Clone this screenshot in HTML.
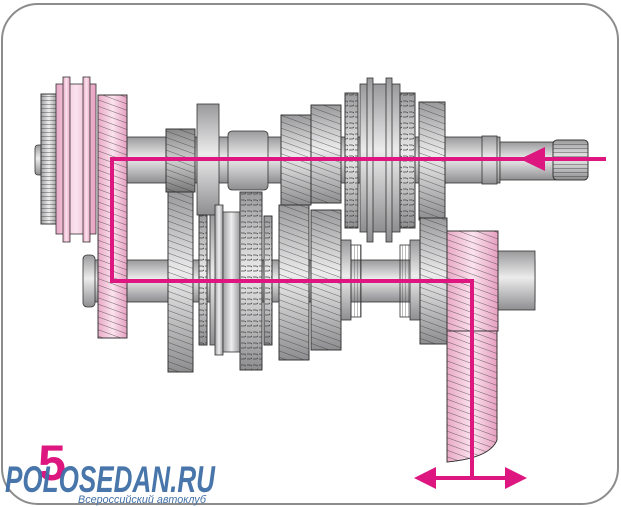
<!DOCTYPE html>
<html><head><meta charset="utf-8"><style>
html,body{margin:0;padding:0;background:#fff;width:621px;height:507px;overflow:hidden}
svg{display:block}
</style></head><body>
<svg width="621" height="507" viewBox="0 0 621 507" xmlns="http://www.w3.org/2000/svg">
<defs>
<linearGradient id="g" x1="0" y1="0" x2="0" y2="1">
<stop offset="0" stop-color="#9a9a9c"/><stop offset="0.45" stop-color="#ececed"/><stop offset="1" stop-color="#8e8e90"/></linearGradient>
<linearGradient id="gh" x1="0" y1="0" x2="1" y2="0">
<stop offset="0" stop-color="#a0a0a2"/><stop offset="0.5" stop-color="#eeeeef"/><stop offset="1" stop-color="#9a9a9c"/></linearGradient>
<linearGradient id="gd" x1="0" y1="0" x2="0" y2="1">
<stop offset="0" stop-color="#888"/><stop offset="0.5" stop-color="#d0d0d0"/><stop offset="1" stop-color="#777"/></linearGradient>
<linearGradient id="pk" x1="0" y1="0" x2="1" y2="0">
<stop offset="0" stop-color="#e9a9c6"/><stop offset="0.5" stop-color="#fbe3ee"/><stop offset="1" stop-color="#e6a0c0"/></linearGradient>
<pattern id="h" width="6" height="6" patternUnits="userSpaceOnUse" patternTransform="rotate(20)">
<line x1="0" y1="0" x2="6" y2="0" stroke="#333" stroke-width="0.7"/></pattern>
<pattern id="t" width="6" height="11" patternUnits="userSpaceOnUse">
<path d="M1 2 h3 a2 2 0 0 1 0 5 h-3" fill="none" stroke="#444" stroke-width="0.8"/></pattern>
<pattern id="v" width="3" height="3" patternUnits="userSpaceOnUse">
<line x1="0" y1="0" x2="0" y2="3" stroke="#444" stroke-width="0.7"/></pattern>
<pattern id="hz" width="4" height="4" patternUnits="userSpaceOnUse">
<line x1="0" y1="0" x2="4" y2="0" stroke="#333" stroke-width="0.8"/></pattern>
</defs>
<rect x="2" y="4" width="616" height="500" rx="36" fill="#fff" stroke="#8c8c8c" stroke-width="2"/>

<g stroke="#333" stroke-width="0.8">
<rect x="127" y="137" width="320" height="46" fill="url(#g)"/>
<rect x="445" y="137" width="55" height="46" fill="url(#g)"/>
<rect x="482" y="136" width="15" height="48" fill="url(#g)"/>
<rect x="500" y="142" width="55" height="38" fill="url(#g)"/>
<rect x="553" y="140" width="35" height="40" rx="4" fill="url(#g)"/>
<rect x="553" y="140" width="35" height="40" rx="4" fill="url(#hz)"/>
<rect x="90" y="260" width="445" height="42" fill="url(#g)"/>
<rect x="498" y="251" width="37" height="59" fill="url(#g)"/>
<rect x="83" y="255" width="12" height="52" rx="4" fill="url(#g)"/>
<rect x="35" y="145" width="10" height="30" rx="3" fill="url(#g)"/>

<rect x="41" y="94" width="16" height="130" fill="url(#gh)"/>
<rect x="41" y="94" width="16" height="130" fill="url(#hz)"/>
<rect x="56" y="84" width="40" height="150" fill="url(#pk)"/>
<rect x="63" y="77" width="7" height="165" fill="url(#pk)"/>
<rect x="83" y="77" width="7" height="165" fill="url(#pk)"/>
<rect x="98" y="95" width="29" height="243" fill="url(#pk)"/>
<rect x="98" y="95" width="29" height="243" fill="url(#h)"/>

<rect x="166" y="129" width="29" height="63" fill="url(#gd)"/>
<rect x="166" y="129" width="29" height="63" fill="url(#h)"/>
<rect x="197" y="104" width="22" height="111" fill="url(#g)"/>
<rect x="228" y="131" width="40" height="59" rx="4" fill="url(#g)"/>
<rect x="281" y="115" width="30" height="90" fill="url(#g)"/>
<rect x="281" y="115" width="30" height="90" fill="url(#h)"/>
<rect x="311" y="105" width="30" height="98" fill="url(#g)"/>
<rect x="311" y="105" width="30" height="98" fill="url(#h)"/>
<rect x="345" y="93" width="13" height="135" fill="url(#g)"/>
<rect x="345" y="93" width="13" height="135" fill="url(#t)"/>
<rect x="360" y="84" width="40" height="148" fill="url(#g)"/>
<rect x="367" y="78" width="6" height="164" fill="url(#g)"/>
<rect x="386" y="78" width="6" height="164" fill="url(#g)"/>
<rect x="400" y="93" width="15" height="135" fill="url(#g)"/>
<rect x="400" y="93" width="15" height="135" fill="url(#t)"/>
<rect x="419" y="102" width="26" height="118" fill="url(#g)"/>
<rect x="419" y="102" width="26" height="118" fill="url(#h)"/>

<rect x="168" y="192" width="25" height="180" fill="url(#g)"/>
<rect x="168" y="192" width="25" height="180" fill="url(#h)"/>
<rect x="199" y="215" width="8" height="130" fill="url(#g)"/>
<rect x="199" y="215" width="8" height="130" fill="url(#t)"/>
<rect x="210" y="215" width="7" height="130" fill="url(#g)"/>
<rect x="215" y="205" width="8" height="150" fill="url(#gh)"/>
<rect x="223" y="212" width="17" height="140" fill="url(#gh)"/>
<rect x="240" y="192" width="22" height="178" fill="url(#g)"/>
<rect x="240" y="192" width="22" height="178" fill="url(#t)"/>
<rect x="264" y="216" width="8" height="129" fill="url(#g)"/>
<rect x="264" y="216" width="8" height="129" fill="url(#t)"/>
<rect x="279" y="205" width="30" height="155" fill="url(#g)"/>
<rect x="279" y="205" width="30" height="155" fill="url(#h)"/>
<rect x="311" y="210" width="30" height="140" fill="url(#g)"/>
<rect x="311" y="210" width="30" height="140" fill="url(#h)"/>
<rect x="341" y="240" width="10" height="80" fill="url(#g)"/>
<rect x="351" y="245" width="10" height="72" fill="url(#v)"/>
<rect x="400" y="245" width="10" height="72" fill="url(#v)"/>
<rect x="410" y="240" width="10" height="80" fill="url(#g)"/>
<rect x="420" y="218" width="27" height="126" fill="url(#g)"/>
<rect x="420" y="218" width="27" height="126" fill="url(#h)"/>
<rect x="447" y="231" width="51" height="100" fill="url(#pk)"/>
<rect x="447" y="231" width="51" height="100" fill="url(#h)"/>
<path d="M447 331 H497 V440 Q490 458 447 462 Z" fill="url(#pk)"/>
<path d="M447 331 H497 V440 Q490 458 447 462 Z" fill="url(#h)"/>
</g>

<g fill="none" stroke="#dd1680" stroke-width="4">
<polyline points="606,159 112,159 112,281 472,281 472,478"/>
<line x1="425" y1="478" x2="515" y2="478"/>
</g>
<g fill="#dd1680">
<polygon points="520,159 545,147 545,171"/>
<polygon points="414,478 436,467 436,489"/>
<polygon points="527,478 505,467 505,489"/>
</g>

<text x="38" y="480" font-family="Liberation Sans, sans-serif" font-weight="bold" font-size="50" fill="#dd1680" textLength="28" lengthAdjust="spacingAndGlyphs">5</text>
<text x="5" y="492" font-family="Liberation Sans, sans-serif" font-weight="bold" font-style="italic" font-size="37" fill="#3f6fa6" textLength="210" lengthAdjust="spacingAndGlyphs" opacity="0.95">POLOSEDAN.RU</text>
<text x="78" y="503" font-family="Liberation Sans, sans-serif" font-style="italic" font-size="11" fill="#3f6fa6" textLength="128" lengthAdjust="spacingAndGlyphs">Всероссийский автоклуб</text>
</svg>
</body></html>
